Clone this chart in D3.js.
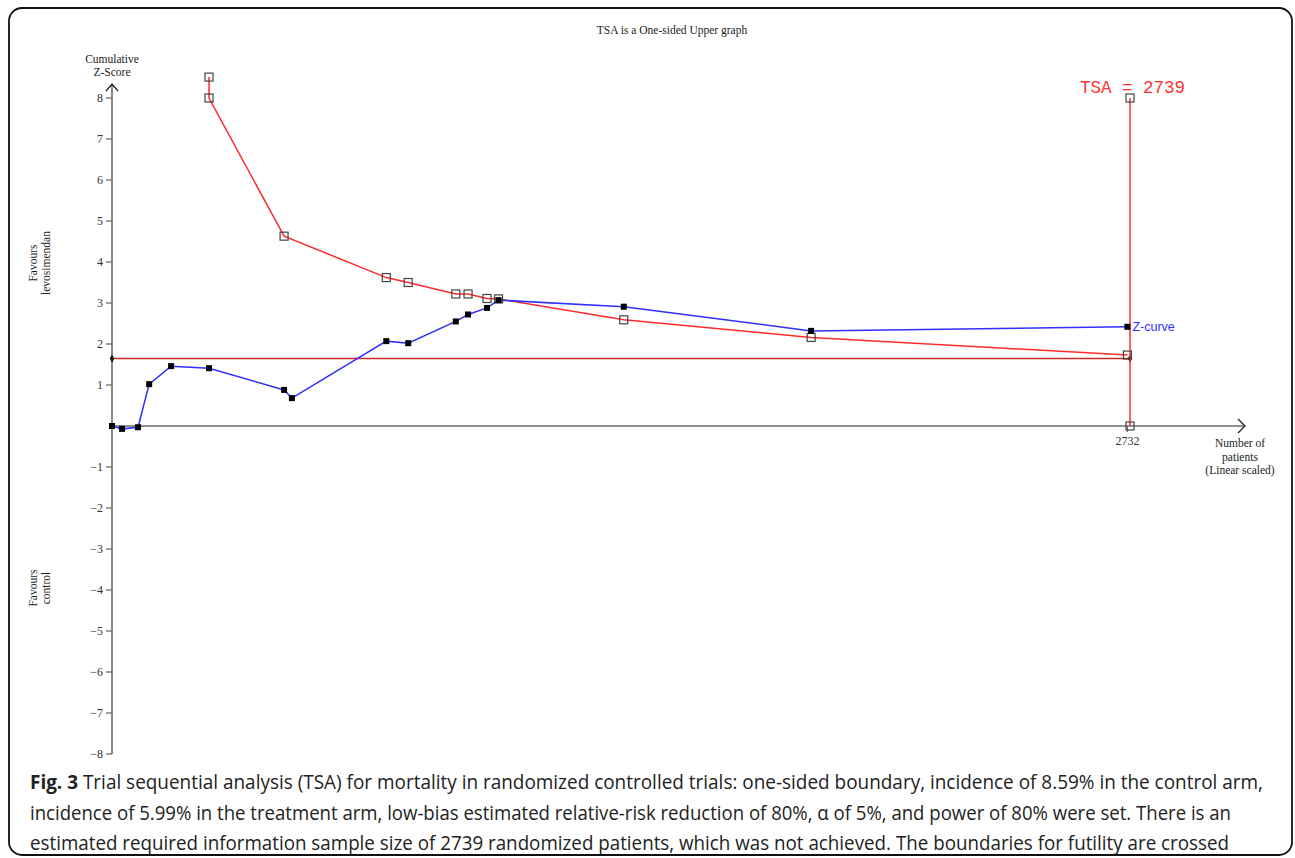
<!DOCTYPE html>
<html>
<head>
<meta charset="utf-8">
<script src="https://cdn.jsdelivr.net/npm/d3@7"></script>
<style>
  html, body { margin: 0; padding: 0; background: #fff; }
  svg { display: block; }
</style>
</head>
<body>
<svg id="chart" width="1295" height="858"></svg>
<script>
// Cumulative number of patients at each trial and cumulative Z-score
const patients = [0, 27, 70, 100, 159, 261, 463, 484, 738, 797, 925, 958, 1009, 1040, 1377, 1881, 2732];
const zScores  = [0, -0.07, -0.03, 1.02, 1.46, 1.41, 0.88, 0.68, 2.07, 2.02, 2.55, 2.72, 2.88, 3.07, 2.91, 2.32, 2.42];

// Trial sequential monitoring boundary (first point clipped at the top of the plot)
const boundaryPatients = [261, 261, 463, 738, 797, 925, 958, 1009, 1040, 1377, 1881, 2732];
const boundaryZ        = [8.51, 8.0, 4.63, 3.62, 3.50, 3.22, 3.22, 3.11, 3.10, 2.59, 2.16, 1.73];

// Required information size and conventional one-sided boundary
const requiredSize = 2739;
const tsaZRange = [8, 0];
const conventionalZ = 1.645;

const yTicks = [8, 7, 6, 5, 4, 3, 2, 1, -1, -2, -3, -4, -5, -6, -7, -8];
const xTicks = [2732];

const title = "TSA is a One-sided Upper graph";
const captionLines = [
  ["Fig. 3", " Trial sequential analysis (TSA) for mortality in randomized controlled trials: one-sided boundary, incidence of 8.59% in the control arm,"],
  ["", "incidence of 5.99% in the treatment arm, low-bias estimated relative-risk reduction of 80%, \u03b1 of 5%, and power of 80% were set. There is an"],
  ["", "estimated required information sample size of 2739 randomized patients, which was not achieved. The boundaries for futility are crossed"]
];

const svg = d3.select("#chart");
const serif = "'Liberation Serif', 'Times New Roman', serif";

// Outer frame
svg.append("rect")
  .attr("x", 9).attr("y", 8).attr("width", 1283).attr("height", 847)
  .attr("rx", 13).attr("ry", 13)
  .attr("fill", "none").attr("stroke", "#111").attr("stroke-width", 1.8);

const x = d3.scaleLinear().domain([0, requiredSize]).range([112, 1130]);
const y = d3.scaleLinear().domain([-8, 8]).range([754, 98]);

const axisColor = "#6b6b6b";
const tickTextColor = "#333";

// Title
svg.append("text").attr("x", 672).attr("y", 34)
  .attr("text-anchor", "middle").attr("font-family", serif).attr("font-size", 11.5)
  .attr("fill", "#222").text(title);

// Y axis with arrow
const g = svg.append("g");
g.append("line").attr("x1", x(0)).attr("x2", x(0)).attr("y1", y(-8)).attr("y2", 84)
  .attr("stroke", axisColor).attr("stroke-width", 1.6);
g.append("path").attr("d", `M${x(0) - 6},${91} L${x(0)},${84} L${x(0) + 6},${91}`)
  .attr("fill", "none").attr("stroke", "#222").attr("stroke-width", 1.3);

yTicks.forEach(t => {
  g.append("line").attr("x1", x(0) - 6).attr("x2", x(0)).attr("y1", y(t)).attr("y2", y(t))
    .attr("stroke", axisColor).attr("stroke-width", 1.3);
  g.append("text").attr("x", x(0) - 9).attr("y", y(t) + 4)
    .attr("text-anchor", "end").attr("font-family", serif).attr("font-size", 12)
    .attr("fill", tickTextColor).text(t < 0 ? "\u2212" + Math.abs(t) : t);
});

// X axis with arrow
const xEnd = 1245;
g.append("line").attr("x1", x(0)).attr("x2", xEnd).attr("y1", y(0)).attr("y2", y(0))
  .attr("stroke", axisColor).attr("stroke-width", 1.6);
g.append("path").attr("d", `M${xEnd - 7},${y(0) - 7} L${xEnd},${y(0)} L${xEnd - 7},${y(0) + 7}`)
  .attr("fill", "none").attr("stroke", "#222").attr("stroke-width", 1.3);
xTicks.forEach(t => {
  g.append("line").attr("x1", x(t)).attr("x2", x(t)).attr("y1", y(0)).attr("y2", y(0) + 6)
    .attr("stroke", axisColor).attr("stroke-width", 1.3);
  g.append("text").attr("x", x(t)).attr("y", y(0) + 19)
    .attr("text-anchor", "middle").attr("font-family", serif).attr("font-size", 12)
    .attr("fill", tickTextColor).text(t);
});

// Axis titles
const yTitle = svg.append("text").attr("text-anchor", "middle").attr("font-family", serif)
  .attr("font-size", 11.5).attr("fill", "#222");
yTitle.append("tspan").attr("x", 112).attr("y", 63).text("Cumulative");
yTitle.append("tspan").attr("x", 112).attr("y", 76).text("Z-Score");

const xTitle = svg.append("text").attr("text-anchor", "middle").attr("font-family", serif)
  .attr("font-size", 11.5).attr("fill", "#222");
["Number of", "patients", "(Linear scaled)"].forEach((s, i) =>
  xTitle.append("tspan").attr("x", 1240).attr("y", 447 + i * 13.5).text(s));

function sideLabel(lines, cy) {
  const t = svg.append("text").attr("transform", `translate(40,${cy}) rotate(-90)`)
    .attr("text-anchor", "middle").attr("font-family", serif).attr("font-size", 11.5).attr("fill", "#222");
  lines.forEach((s, i) => t.append("tspan").attr("x", 0).attr("y", -3 + i * 13).text(s));
}
sideLabel(["Favours", "levosimendan"], 263);
sideLabel(["Favours", "control"], 588);

// Conventional boundary (horizontal)
svg.append("line").attr("x1", x(0)).attr("x2", x(requiredSize))
  .attr("y1", y(conventionalZ)).attr("y2", y(conventionalZ))
  .attr("stroke", "#cc2a2a").attr("stroke-width", 1.5);
[0, requiredSize].forEach(v => {
  svg.append("path").attr("d", d3.symbol(d3.symbolDiamond, 18)())
    .attr("transform", `translate(${x(v)},${y(conventionalZ)})`).attr("fill", "#111");
});

// Required information size (vertical)
svg.append("line").attr("x1", x(requiredSize)).attr("x2", x(requiredSize))
  .attr("y1", y(tsaZRange[0])).attr("y2", y(tsaZRange[1]))
  .attr("stroke", "#ff3030").attr("stroke-width", 1.5);

// Monitoring boundary
const boundary = boundaryPatients.map((p, i) => [p, boundaryZ[i]]);
const line = d3.line().x(d => x(d[0])).y(d => y(d[1]));
svg.append("path").datum(boundary).attr("d", line)
  .attr("fill", "none").attr("stroke", "#ff2b2b").attr("stroke-width", 1.5);

// Z-curve
const zc = patients.map((p, i) => [p, zScores[i]]);
svg.append("path").datum(zc).attr("d", line)
  .attr("fill", "none").attr("stroke", "#2f2fff").attr("stroke-width", 1.5);

// Boundary markers (open squares)
const openSq = 8;
svg.selectAll("rect.bnd").data(boundary.concat(tsaZRange.map(z => [requiredSize, z])))
  .join("rect").attr("class", "bnd")
  .attr("x", d => x(d[0]) - openSq / 2).attr("y", d => y(d[1]) - openSq / 2)
  .attr("width", openSq).attr("height", openSq)
  .attr("fill", "none").attr("stroke", "#444").attr("stroke-width", 1.2);

// Z-curve markers (filled squares)
const sq = 6;
svg.selectAll("rect.zc").data(zc).join("rect").attr("class", "zc")
  .attr("x", d => x(d[0]) - sq / 2).attr("y", d => y(d[1]) - sq / 2)
  .attr("width", sq).attr("height", sq).attr("fill", "#000");

// Z-curve label
const last = zc[zc.length - 1];
svg.append("text").attr("x", x(last[0]) + 5).attr("y", y(last[1]) + 4.5)
  .attr("font-family", "'Liberation Sans', Arial, sans-serif").attr("font-size", 12.5)
  .attr("fill", "#2f2fff").text("Z-curve");

// TSA label
svg.append("text").attr("x", 1080).attr("y", 93)
  .attr("font-family", "'Liberation Mono', monospace").attr("font-size", 17.5)
  .attr("fill", "#ff3030").text("TSA = " + requiredSize);

// Caption: narrow, tall lettering via a vertical stretch
const capWidths = [1233, 1201, 1199];
const capStretch = 1.15;
captionLines.forEach((parts, i) => {
  const baseline = 789 + i * 30.5;
  const t = svg.append("text")
    .attr("transform", `translate(30,${baseline}) scale(1,${capStretch})`)
    .attr("x", 0).attr("y", 0)
    .attr("font-family", "'Open Sans', sans-serif").attr("font-size", 17)
    .attr("fill", "#222")
    .attr("textLength", capWidths[i]).attr("lengthAdjust", "spacingAndGlyphs");
  if (parts[0]) t.append("tspan").attr("font-weight", "bold").text(parts[0]);
  t.append("tspan").text(parts[1]);
});
</script>
</body>
</html>
